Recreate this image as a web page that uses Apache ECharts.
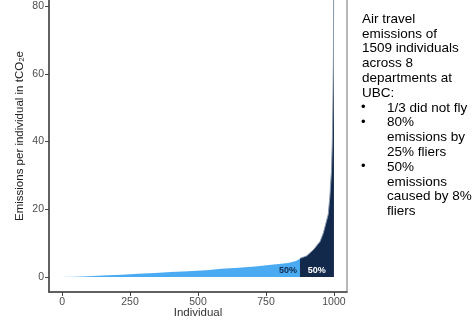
<!DOCTYPE html>
<html>
<head>
<meta charset="utf-8">
<script src="https://cdn.jsdelivr.net/npm/echarts@6/dist/echarts.min.js"></script>
<style>
html,body{margin:0;padding:0;background:#fff;}
#c{width:474px;height:320px;}
</style>
</head>
<body>
<div id="c"></div>
<script>
// Data
var xTicks = [0, 250, 500, 750, 1000];
var yTicks = [0, 20, 40, 60, 80];
var xLow = [0, 50, 96, 150, 219, 280, 342, 400, 464, 530, 587, 650, 710, 770, 832, 860, 875];
var yLow = [0, 0.1, 0.2, 0.45, 0.7, 0.95, 1.2, 1.45, 1.7, 2.0, 2.4, 2.75, 3.1, 3.6, 4.1, 4.7, 5.4];
var xHigh = [875, 899, 924, 949, 961, 979, 985, 991, 994, 996, 998, 999, 1000];
var yHigh = [5.5, 6.2, 8, 10.5, 13, 18.5, 23.7, 31.5, 40, 50, 65, 85, 110];
var shareLabels = ['50%', '50%'];
var xTitle = 'Individual';
var yTitle = 'Emissions per individual in tCO\u2082e';
var noteLines = [
  {b: false, t: 'Air travel'},
  {b: false, t: 'emissions of'},
  {b: false, t: '1509 individuals'},
  {b: false, t: 'across 8'},
  {b: false, t: 'departments at'},
  {b: false, t: 'UBC:'},
  {b: true,  t: '1/3 did not fly'},
  {b: true,  t: '80%'},
  {b: false, t: 'emissions by', ind: true},
  {b: false, t: '25% fliers', ind: true},
  {b: true,  t: '50%'},
  {b: false, t: 'emissions', ind: true},
  {b: false, t: 'caused by 8%', ind: true},
  {b: false, t: 'fliers', ind: true}
];

function pairs(xs, ys) { return xs.map(function (x, i) { return [x, ys[i]]; }); }

var chart = echarts.init(document.getElementById('c'), null, {renderer: 'canvas'});
var FONT = '"Liberation Sans", Arial, sans-serif';

var graphics = [];
noteLines.forEach(function (l, i) {
  var y = 20 + i * 14.8;
  if (l.b) {
    graphics.push({type: 'text', left: 361, top: y - 8, style: {text: '\u2022', font: '13px ' + FONT, fill: '#000'}});
  }
  graphics.push({type: 'text', left: (l.b || l.ind) ? 387 : 362, top: y - 8,
    style: {text: l.t, font: '13.5px ' + FONT, fill: '#000'}});
});
graphics.push({type: 'text', x: 20, y: 136, rotation: Math.PI / 2,
  style: {text: yTitle, font: '11.5px ' + FONT, fill: '#222', align: 'center', verticalAlign: 'middle'}});
graphics.push({type: 'text', x: 198, y: 313, 
  style: {text: xTitle, font: '11.5px ' + FONT, fill: '#333', align: 'center', verticalAlign: 'middle'}});

var option = {
  animation: false,
  grid: {left: 49, right: 127, top: -20, bottom: 28, containLabel: false, outerBoundsMode: 'none',
    show: true, borderColor: '#b8b8b8', borderWidth: 2, backgroundColor: 'transparent'},
  xAxis: {
    type: 'value', min: -48, max: 1048,
    axisLine: {show: true, onZero: false, lineStyle: {color: '#444', width: 1.5}},
    axisTick: {show: true, length: 4, customValues: xTicks, lineStyle: {color: '#444', width: 1}},
    axisLabel: {customValues: xTicks, margin: 5, fontSize: 10.5, color: '#4d4d4d', fontFamily: FONT,
      formatter: function (v) { return String(v); }},
    splitLine: {show: false}
  },
  yAxis: {
    type: 'value', min: -4.43, max: 87.7,
    axisLine: {show: true, onZero: false, lineStyle: {color: '#444', width: 1.5}},
    axisTick: {show: true, length: 4, customValues: yTicks, lineStyle: {color: '#444', width: 1}},
    axisLabel: {customValues: yTicks, margin: 5, fontSize: 10.5, color: '#4d4d4d', fontFamily: FONT,
      formatter: function (v) { return String(v); }},
    splitLine: {show: false}
  },
  series: [
    {
      type: 'line', data: pairs(xLow, yLow), symbol: 'none', smooth: false, clip: true,
      lineStyle: {width: 0}, areaStyle: {color: '#4aaaf2', opacity: 1, origin: 0},
      markPoint: {symbol: 'rect', symbolSize: 1, itemStyle: {color: 'rgba(0,0,0,0)'},
        data: [{coord: [831, 1.8], label: {show: true, formatter: shareLabels[0], color: '#13294b', fontSize: 9, fontWeight: 'bold', fontFamily: FONT}}]}
    },
    {
      type: 'line', data: pairs(xHigh, yHigh), symbol: 'none', smooth: false, clip: true,
      lineStyle: {width: 1, color: '#8a9aae'}, areaStyle: {color: '#13294b', opacity: 1, origin: 0},
      markPoint: {symbol: 'rect', symbolSize: 1, itemStyle: {color: 'rgba(0,0,0,0)'},
        data: [{coord: [937, 1.8], label: {show: true, formatter: shareLabels[1], color: '#ffffff', fontSize: 9, fontWeight: 'bold', fontFamily: FONT}}]}
    }
  ],
  graphic: graphics
};
chart.setOption(option);
</script>
</body>
</html>
